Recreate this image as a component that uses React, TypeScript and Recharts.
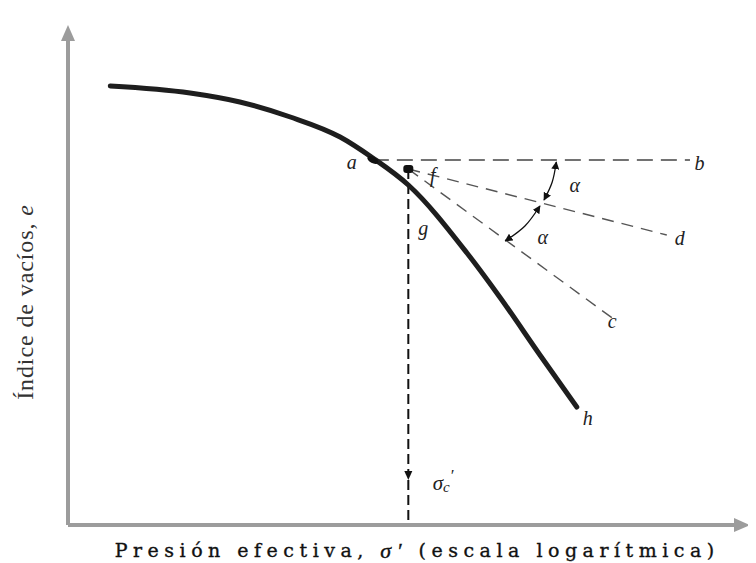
import React from 'react';
import { ComposedChart, Line, XAxis, YAxis, ReferenceLine, ReferenceDot } from 'recharts';

// Abstract units: x = log(σ') position 0..100, y = void ratio e 0..100
const curveLogP = [6.2, 17.9, 25.2, 32.6, 39.9, 44.7, 49.9, 58.5, 63.3, 69.2, 74.6];
const curveE = [87.8, 86.4, 84.6, 81.6, 77.6, 73.4, 68.0, 54.4, 45.6, 34.0, 23.6];

const pointA = { x: 44.7, y: 73.0 };
const pointF = { x: 49.9, y: 71.2 };
const pointB = { x: 91.2, y: 73.0 };
const pointD = { x: 87.8, y: 58.0 };
const pointC = { x: 79.8, y: 41.4 };
const sigmaArrowE = 9.0;

const upperArcX = [71.6, 71.0, 69.8];
const upperArcE = [72.6, 68.6, 65.0];
const lowerArcX = [69.2, 67.0, 64.1];
const lowerArcE = [63.8, 59.8, 56.8];

const letterNames = ['a', 'b', 'f', 'g', 'd', 'c', 'h'];
const letterX = [41.6, 92.6, 53.5, 52.1, 89.7, 79.8, 76.2];
const letterE = [72.6, 72.4, 70.0, 59.4, 57.4, 40.8, 21.4];
const alphaX = [74.3, 69.6];
const alphaE = [68.0, 57.6];
const sigmaLabel = { x: 55.0, y: 8.4 };

const xTitleParts = ['Presión efectiva, ', 'σ′', ' (escala logarítmica)'];
const xTitlePos = { x: 51.2, y: -5.0 };
const yTitleParts = ['Índice de vacíos, ', 'e'];
const yTitlePos = { x: -6.3, y: 44.6 };

const curveData = curveLogP.map((x, i) => ({ x, e: curveE[i] }));
const upperArc = upperArcX.map((x, i) => ({ x, e: upperArcE[i] }));
const lowerArc = lowerArcX.map((x, i) => ({ x, e: lowerArcE[i] }));

const SERIF = '"Liberation Serif", "DejaVu Serif", serif';

function arrowHead(x1: number, y1: number, x2: number, y2: number, len: number, half: number, fill: string) {
  const dx = x2 - x1;
  const dy = y2 - y1;
  const L = Math.hypot(dx, dy) || 1;
  const ux = dx / L;
  const uy = dy / L;
  const bx = x2 - ux * len;
  const by = y2 - uy * len;
  const pts = `${x2},${y2} ${bx - uy * half},${by + ux * half} ${bx + uy * half},${by - ux * half}`;
  return { bx, by, poly: <polygon points={pts} fill={fill} /> };
}

const AxisShape = (p: any) => {
  const { x1, y1, x2, y2 } = p;
  const a = arrowHead(x1, y1, x2, y2, 16, 7, '#9c9c9c');
  return (
    <g>
      <line x1={x1} y1={y1} x2={a.bx} y2={a.by} stroke="#9c9c9c" strokeWidth={4} />
      {a.poly}
    </g>
  );
};

const makeDashShape = (stroke: string, width: number, dash: string) => (p: any) => (
  <line x1={p.x1} y1={p.y1} x2={p.x2} y2={p.y2} stroke={stroke} strokeWidth={width} strokeDasharray={dash} />
);

const SigmaArrowShape = (p: any) => {
  const { x1, y1, x2, y2 } = p;
  const a = arrowHead(x1, y1, x2, y2, 9, 4, '#111');
  return (
    <g>
      <line x1={x1} y1={y1} x2={a.bx} y2={a.by} stroke="#111" strokeWidth={2} strokeDasharray="10 5" />
      {a.poly}
    </g>
  );
};

const letterShape = (txt: string) => (p: any) => (
  <text x={p.cx} y={p.cy} textAnchor="middle" dominantBaseline="central" fontFamily={SERIF} fontStyle="italic" fontSize={20} fill="#222">
    {txt}
  </text>
);

const FDot = (p: any) => <rect x={p.cx - 5} y={p.cy - 4} width={10} height={8} rx={3} fill="#111" />;
const ADot = (p: any) => <ellipse cx={p.cx} cy={p.cy} rx={6} ry={3.2} transform={`rotate(28 ${p.cx} ${p.cy})`} fill="#111" />;

const SigmaLabel = (p: any) => (
  <text x={p.cx} y={p.cy} textAnchor="middle" dominantBaseline="central" fontFamily={SERIF} fontStyle="italic" fontSize={21} fill="#222">
    <tspan>σ</tspan>
    <tspan fontSize={15} dy={4}>c</tspan>
    <tspan fontSize={17} dy={-12}>′</tspan>
  </text>
);

const XTitle = (p: any) => (
  <text x={p.cx} y={p.cy} textAnchor="middle" dominantBaseline="central" fontFamily={'"DejaVu Serif", serif'} fontSize={19} letterSpacing={5.5} fill="#111" stroke="#111" strokeWidth={0.35}>
    <tspan>{xTitleParts[0]}</tspan>
    <tspan fontStyle="italic" fontFamily={SERIF} fontSize={22}>{xTitleParts[1]}</tspan>
    <tspan>{xTitleParts[2]}</tspan>
  </text>
);

const YTitle = (p: any) => (
  <text x={p.cx} y={p.cy} textAnchor="middle" dominantBaseline="central" transform={`rotate(-90 ${p.cx} ${p.cy})`} fontFamily={SERIF} fontSize={24} letterSpacing={0.9} fill="#333">
    <tspan>{yTitleParts[0]}</tspan>
    <tspan fontStyle="italic">{yTitleParts[1]}</tspan>
  </text>
);

export default function App() {
  return (
    <ComposedChart width={748} height={555} margin={{ top: 17, right: 6, bottom: 38, left: 60 }}>
      <defs>
        <marker id="arcArrow" viewBox="0 0 10 10" refX="9" refY="5" markerWidth="8" markerHeight="8" markerUnits="userSpaceOnUse" orient="auto-start-reverse">
          <path d="M0,0 L10,5 L0,10 z" fill="#111" />
        </marker>
      </defs>
      <XAxis type="number" dataKey="x" domain={[0, 100]} hide />
      <YAxis type="number" dataKey="e" domain={[0, 100]} hide />

      <ReferenceLine segment={[{ x: 0, y: 0 }, { x: 0, y: 100 }]} shape={AxisShape} />
      <ReferenceLine segment={[{ x: 0, y: 0 }, { x: 100, y: 0 }]} shape={AxisShape} />

      <ReferenceLine segment={[pointA, pointB]} shape={makeDashShape('#444', 1.6, '16 8')} />
      <ReferenceLine segment={[pointF, pointD]} shape={makeDashShape('#555', 1.4, '12 8')} />
      <ReferenceLine segment={[pointF, pointC]} shape={makeDashShape('#555', 1.4, '12 8')} />
      <ReferenceLine segment={[pointF, { x: pointF.x, y: sigmaArrowE }]} shape={SigmaArrowShape} />
      <ReferenceLine segment={[{ x: pointF.x, y: sigmaArrowE }, { x: pointF.x, y: 0 }]} shape={makeDashShape('#111', 2, '10 5')} />

      <Line data={curveData} dataKey="e" type="monotone" stroke="#1e1e1e" strokeWidth={5} dot={false} isAnimationActive={false} strokeLinecap="round" />
      <Line data={upperArc} dataKey="e" type="natural" stroke="#111" strokeWidth={1.3} dot={false} isAnimationActive={false} markerStart="url(#arcArrow)" markerEnd="url(#arcArrow)" />
      <Line data={lowerArc} dataKey="e" type="natural" stroke="#111" strokeWidth={1.3} dot={false} isAnimationActive={false} markerStart="url(#arcArrow)" markerEnd="url(#arcArrow)" />

      <ReferenceDot x={pointA.x} y={pointA.y} r={4} shape={ADot} />
      <ReferenceDot x={pointF.x} y={pointF.y} r={4} shape={FDot} />

      {letterNames.map((n, i) => (
        <ReferenceDot key={n} x={letterX[i]} y={letterE[i]} r={0} shape={letterShape(n)} />
      ))}
      {alphaX.map((x, i) => (
        <ReferenceDot key={'al' + i} x={x} y={alphaE[i]} r={0} shape={letterShape('α')} />
      ))}
      <ReferenceDot x={sigmaLabel.x} y={sigmaLabel.y} r={0} shape={SigmaLabel} />
      <ReferenceDot x={xTitlePos.x} y={xTitlePos.y} r={0} ifOverflow="visible" shape={XTitle} />
      <ReferenceDot x={yTitlePos.x} y={yTitlePos.y} r={0} ifOverflow="visible" shape={YTitle} />
    </ComposedChart>
  );
}
